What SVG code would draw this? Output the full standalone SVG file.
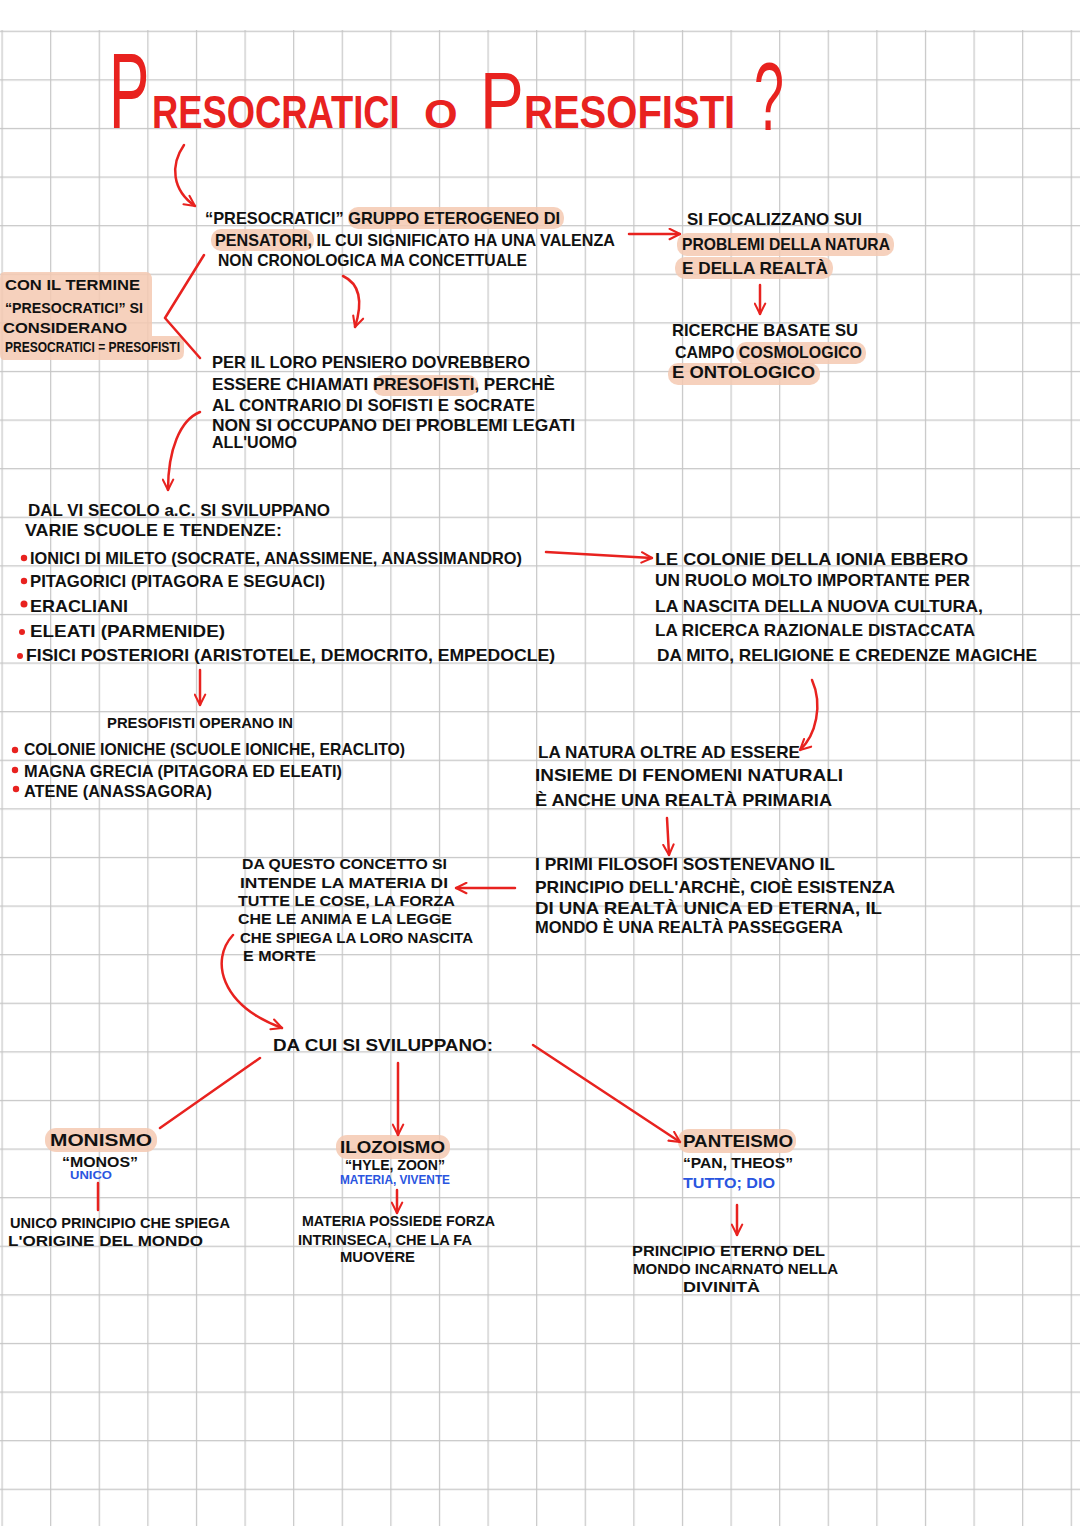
<svg xmlns="http://www.w3.org/2000/svg" width="1080" height="1526" viewBox="0 0 1080 1526">
<defs>
<pattern id="grid" patternUnits="userSpaceOnUse" x="1.5" y="30.7" width="48.6" height="48.6">
<path d="M0 0.5 H48.6 M0.5 0 V48.6" stroke="#c6c6c6" stroke-width="1.4" fill="none"/>
</pattern>
<marker id="ah" viewBox="0 0 10 10" refX="9" refY="5" markerWidth="13" markerHeight="13" markerUnits="userSpaceOnUse" orient="auto">
<path d="M1,1 L9,5 L1,9" fill="none" stroke="#e8221f" stroke-width="1.6" stroke-linecap="round" stroke-linejoin="round"/>
</marker>
<style>
.t{font-family:"Liberation Sans",Arial,sans-serif;font-weight:700;font-size:17px;fill:#111}
.s{font-size:15px}
.xs{font-size:14px}
.b{font-family:"Liberation Sans",Arial,sans-serif;font-weight:700;fill:#2a55e0}
.hl{fill:#f5c9b2;opacity:0.85}
.c{fill:none;stroke:#e8221f;stroke-width:2.5;stroke-linecap:round;stroke-linejoin:round}
.dot{fill:#e8221f}
.ti{font-family:"Liberation Sans",Arial,sans-serif;fill:#e8221f}
</style>
</defs>
<rect x="0" y="0" width="1080" height="1526" fill="#ffffff"/>
<rect x="0" y="30" width="1080" height="1496" fill="url(#grid)"/>

<g id="title">
<text class="ti" transform="translate(109,128) scale(0.56,1)" font-size="108">P</text>
<text class="ti" transform="translate(152,128) scale(0.79,1)" font-size="46" font-weight="700">RESOCRATICI</text>
<text class="ti" transform="translate(424,128) scale(1.08,1)" font-size="40" font-weight="700">O</text>
<text class="ti" transform="translate(480,128) scale(0.82,1)" font-size="80">P</text>
<text class="ti" transform="translate(524,128) scale(0.87,1)" font-size="46" font-weight="700">RESOFISTI</text>
<text class="ti" transform="translate(754,130) scale(0.56,1)" font-size="96">?</text>
</g>

<g id="node-gruppo">
<rect class="hl" x="348" y="207" width="216" height="22" rx="10"/>
<rect class="hl" x="211" y="229" width="103" height="22" rx="10"/>
<text class="t" x="205" y="224" textLength="355" lengthAdjust="spacingAndGlyphs">“PRESOCRATICI” GRUPPO ETEROGENEO DI</text>
<text class="t" x="215" y="246" textLength="400" lengthAdjust="spacingAndGlyphs">PENSATORI, IL CUI SIGNIFICATO HA UNA VALENZA</text>
<text class="t" x="218" y="266" textLength="309" lengthAdjust="spacingAndGlyphs">NON CRONOLOGICA MA CONCETTUALE</text>
</g>

<g id="node-focalizzano">
<rect class="hl" x="677" y="233" width="217" height="23" rx="10"/>
<rect class="hl" x="675" y="257" width="158" height="22" rx="10"/>
<text class="t" x="687" y="225" textLength="175" lengthAdjust="spacingAndGlyphs">SI FOCALIZZANO SUI</text>
<text class="t" x="682" y="250" textLength="208" lengthAdjust="spacingAndGlyphs">PROBLEMI DELLA NATURA</text>
<text class="t" x="682" y="274" textLength="146" lengthAdjust="spacingAndGlyphs">E DELLA REALTÀ</text>
</g>

<g id="node-ricerche">
<rect class="hl" x="736" y="342" width="130" height="22" rx="10"/>
<rect class="hl" x="668" y="363" width="152" height="22" rx="10"/>
<text class="t" x="672" y="336" textLength="186" lengthAdjust="spacingAndGlyphs">RICERCHE BASATE SU</text>
<text class="t" x="675" y="358" textLength="187" lengthAdjust="spacingAndGlyphs">CAMPO COSMOLOGICO</text>
<text class="t" x="672" y="378" textLength="143" lengthAdjust="spacingAndGlyphs">E ONTOLOGICO</text>
</g>

<g id="node-termine">
<path class="hl" d="M4,272 H146 Q152,272 152,280 V336 H178 Q184,336 184,344 V352 Q184,360 176,360 H4 Q0,360 0,354 V278 Q0,272 4,272 Z"/>
<text class="t s" x="5" y="290" textLength="135" lengthAdjust="spacingAndGlyphs">CON IL TERMINE</text>
<text class="t s" x="5" y="313" textLength="138" lengthAdjust="spacingAndGlyphs">“PRESOCRATICI” SI</text>
<text class="t s" x="3" y="333" textLength="124" lengthAdjust="spacingAndGlyphs">CONSIDERANO</text>
<text class="t s" x="5" y="352" textLength="175" lengthAdjust="spacingAndGlyphs">PRESOCRATICI = PRESOFISTI</text>
</g>

<g id="node-pensiero">
<rect class="hl" x="373" y="375" width="105" height="21" rx="10"/>
<text class="t" x="212" y="368" textLength="318" lengthAdjust="spacingAndGlyphs">PER IL LORO PENSIERO DOVREBBERO</text>
<text class="t" x="212" y="390" textLength="343" lengthAdjust="spacingAndGlyphs">ESSERE CHIAMATI PRESOFISTI, PERCHÈ</text>
<text class="t" x="212" y="411" textLength="323" lengthAdjust="spacingAndGlyphs">AL CONTRARIO DI SOFISTI E SOCRATE</text>
<text class="t" x="212" y="431" textLength="363" lengthAdjust="spacingAndGlyphs">NON SI OCCUPANO DEI PROBLEMI LEGATI</text>
<text class="t" x="212" y="448" textLength="85" lengthAdjust="spacingAndGlyphs">ALL'UOMO</text>
</g>

<g id="node-scuole">
<text class="t" x="28" y="516" textLength="302" lengthAdjust="spacingAndGlyphs">DAL VI SECOLO a.C. SI SVILUPPANO</text>
<text class="t" x="25" y="536" textLength="257" lengthAdjust="spacingAndGlyphs">VARIE SCUOLE E TENDENZE:</text>
<circle class="dot" cx="24" cy="558" r="3.2"/>
<text class="t" x="30" y="564" textLength="492" lengthAdjust="spacingAndGlyphs">IONICI DI MILETO (SOCRATE, ANASSIMENE, ANASSIMANDRO)</text>
<circle class="dot" cx="24" cy="581" r="3.2"/>
<text class="t" x="30" y="587" textLength="295" lengthAdjust="spacingAndGlyphs">PITAGORICI (PITAGORA E SEGUACI)</text>
<circle class="dot" cx="24" cy="604" r="3.5"/>
<text class="t" x="30" y="612" textLength="98" lengthAdjust="spacingAndGlyphs">ERACLIANI</text>
<circle class="dot" cx="22" cy="632" r="3"/>
<text class="t" x="30" y="637" textLength="195" lengthAdjust="spacingAndGlyphs">ELEATI (PARMENIDE)</text>
<circle class="dot" cx="20" cy="656" r="3"/>
<text class="t" x="26" y="661" textLength="529" lengthAdjust="spacingAndGlyphs">FISICI POSTERIORI (ARISTOTELE, DEMOCRITO, EMPEDOCLE)</text>
</g>

<g id="node-colonie">
<text class="t" x="655" y="565" textLength="313" lengthAdjust="spacingAndGlyphs">LE COLONIE DELLA IONIA EBBERO</text>
<text class="t" x="655" y="586" textLength="315" lengthAdjust="spacingAndGlyphs">UN RUOLO MOLTO IMPORTANTE PER</text>
<text class="t" x="655" y="612" textLength="328" lengthAdjust="spacingAndGlyphs">LA NASCITA DELLA NUOVA CULTURA,</text>
<text class="t" x="655" y="636" textLength="320" lengthAdjust="spacingAndGlyphs">LA RICERCA RAZIONALE DISTACCATA</text>
<text class="t" x="657" y="661" textLength="380" lengthAdjust="spacingAndGlyphs">DA MITO, RELIGIONE E CREDENZE MAGICHE</text>
</g>

<g id="node-operano">
<text class="t s" x="107" y="728" textLength="186" lengthAdjust="spacingAndGlyphs">PRESOFISTI OPERANO IN</text>
<circle class="dot" cx="15" cy="750" r="3.2"/>
<text class="t" x="24" y="755" textLength="381" lengthAdjust="spacingAndGlyphs">COLONIE IONICHE (SCUOLE IONICHE, ERACLITO)</text>
<circle class="dot" cx="15" cy="770" r="3.2"/>
<text class="t" x="24" y="777" textLength="318" lengthAdjust="spacingAndGlyphs">MAGNA GRECIA (PITAGORA ED ELEATI)</text>
<circle class="dot" cx="16" cy="789" r="3.2"/>
<text class="t" x="24" y="797" textLength="188" lengthAdjust="spacingAndGlyphs">ATENE (ANASSAGORA)</text>
</g>

<g id="node-natura">
<text class="t" x="538" y="758" textLength="262" lengthAdjust="spacingAndGlyphs">LA NATURA OLTRE AD ESSERE</text>
<text class="t" x="535" y="781" textLength="308" lengthAdjust="spacingAndGlyphs">INSIEME DI FENOMENI NATURALI</text>
<text class="t" x="535" y="806" textLength="297" lengthAdjust="spacingAndGlyphs">È ANCHE UNA REALTÀ PRIMARIA</text>
</g>

<g id="node-primi">
<text class="t" x="535" y="870" textLength="300" lengthAdjust="spacingAndGlyphs">I PRIMI FILOSOFI SOSTENEVANO IL</text>
<text class="t" x="535" y="893" textLength="360" lengthAdjust="spacingAndGlyphs">PRINCIPIO DELL'ARCHÈ, CIOÈ ESISTENZA</text>
<text class="t" x="535" y="914" textLength="347" lengthAdjust="spacingAndGlyphs">DI UNA REALTÀ UNICA ED ETERNA, IL</text>
<text class="t" x="535" y="933" textLength="308" lengthAdjust="spacingAndGlyphs">MONDO È UNA REALTÀ PASSEGGERA</text>
</g>

<g id="node-concetto">
<text class="t s" x="242" y="869" textLength="205" lengthAdjust="spacingAndGlyphs">DA QUESTO CONCETTO SI</text>
<text class="t s" x="240" y="888" textLength="208" lengthAdjust="spacingAndGlyphs">INTENDE LA MATERIA DI</text>
<text class="t s" x="238" y="906" textLength="217" lengthAdjust="spacingAndGlyphs">TUTTE LE COSE, LA FORZA</text>
<text class="t s" x="238" y="924" textLength="214" lengthAdjust="spacingAndGlyphs">CHE LE ANIMA E LA LEGGE</text>
<text class="t s" x="240" y="943" textLength="233" lengthAdjust="spacingAndGlyphs">CHE SPIEGA LA LORO NASCITA</text>
<text class="t s" x="243" y="961" textLength="73" lengthAdjust="spacingAndGlyphs">E MORTE</text>
</g>

<g id="node-sviluppano">
<text class="t" x="273" y="1051" textLength="220" lengthAdjust="spacingAndGlyphs">DA CUI SI SVILUPPANO:</text>
</g>

<g id="node-monismo">
<rect class="hl" x="45" y="1128" width="112" height="24" rx="11"/>
<text class="t" x="50" y="1146" textLength="102" lengthAdjust="spacingAndGlyphs">MONISMO</text>
<text class="t s" x="62" y="1167" textLength="76" lengthAdjust="spacingAndGlyphs">“MONOS”</text>
<text class="b" x="70" y="1179" font-size="11" textLength="42" lengthAdjust="spacingAndGlyphs">UNICO</text>
<text class="t s" x="10" y="1228" textLength="220" lengthAdjust="spacingAndGlyphs">UNICO PRINCIPIO CHE SPIEGA</text>
<text class="t s" x="8" y="1246" textLength="195" lengthAdjust="spacingAndGlyphs">L'ORIGINE DEL MONDO</text>
</g>

<g id="node-ilozoismo">
<rect class="hl" x="336" y="1135" width="114" height="24" rx="11"/>
<text class="t" x="340" y="1153" textLength="105" lengthAdjust="spacingAndGlyphs">ILOZOISMO</text>
<text class="t xs" x="345" y="1170" textLength="100" lengthAdjust="spacingAndGlyphs">“HYLE, ZOON”</text>
<text class="b" x="340" y="1184" font-size="12" textLength="110" lengthAdjust="spacingAndGlyphs">MATERIA, VIVENTE</text>
<text class="t xs" x="302" y="1226" textLength="193" lengthAdjust="spacingAndGlyphs">MATERIA POSSIEDE FORZA</text>
<text class="t xs" x="298" y="1245" textLength="174" lengthAdjust="spacingAndGlyphs">INTRINSECA, CHE LA FA</text>
<text class="t xs" x="340" y="1262" textLength="75" lengthAdjust="spacingAndGlyphs">MUOVERE</text>
</g>

<g id="node-panteismo">
<rect class="hl" x="678" y="1129" width="118" height="24" rx="11"/>
<text class="t" x="683" y="1147" textLength="110" lengthAdjust="spacingAndGlyphs">PANTEISMO</text>
<text class="t s" x="683" y="1168" textLength="110" lengthAdjust="spacingAndGlyphs">“PAN, THEOS”</text>
<text class="b" x="683" y="1188" font-size="14" textLength="92" lengthAdjust="spacingAndGlyphs">TUTTO; DIO</text>
<text class="t xs" x="632" y="1256" textLength="193" lengthAdjust="spacingAndGlyphs">PRINCIPIO ETERNO DEL</text>
<text class="t xs" x="633" y="1274" textLength="205" lengthAdjust="spacingAndGlyphs">MONDO INCARNATO NELLA</text>
<text class="t xs" x="683" y="1292" textLength="77" lengthAdjust="spacingAndGlyphs">DIVINITÀ</text>
</g>

<g id="connectors">
<path class="c" d="M184,145 C170,165 172,190 195,206" marker-end="url(#ah)"/>
<path class="c" d="M204,255 L165,318 L200,358"/>
<path class="c" d="M343,276 C362,285 362,305 355,327" marker-end="url(#ah)"/>
<path class="c" d="M629,234 L680,234" marker-end="url(#ah)"/>
<path class="c" d="M760,285 L760,314" marker-end="url(#ah)"/>
<path class="c" d="M200,412 C180,420 168,450 168,490" marker-end="url(#ah)"/>
<path class="c" d="M546,552 L652,558" marker-end="url(#ah)"/>
<path class="c" d="M200,670 L200,705" marker-end="url(#ah)"/>
<path class="c" d="M812,680 C823,705 816,735 800,750" marker-end="url(#ah)"/>
<path class="c" d="M667,818 L669,855" marker-end="url(#ah)"/>
<path class="c" d="M515,888 L456,888" marker-end="url(#ah)"/>
<path class="c" d="M233,935 C210,960 220,1005 282,1028" marker-end="url(#ah)"/>
<path class="c" d="M260,1058 L160,1128"/>
<path class="c" d="M398,1063 L398,1135" marker-end="url(#ah)"/>
<path class="c" d="M533,1045 L680,1142" marker-end="url(#ah)"/>
<path class="c" d="M98,1183 L98,1210"/>
<path class="c" d="M397,1190 L397,1213" marker-end="url(#ah)"/>
<path class="c" d="M737,1205 L737,1235" marker-end="url(#ah)"/>
</g>
</svg>
